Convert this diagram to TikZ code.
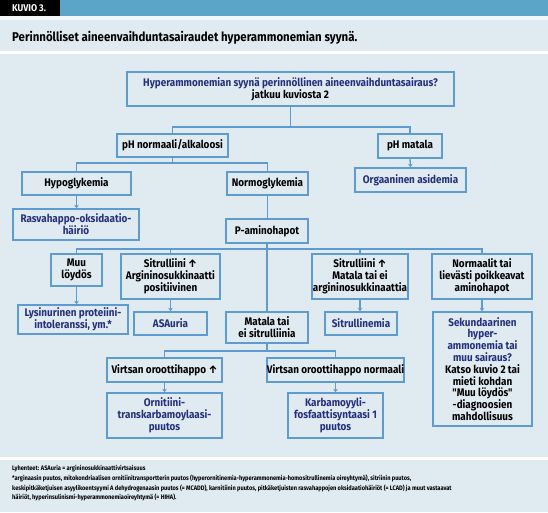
\documentclass[tikz,border=0pt]{standalone}
\usepackage{fontspec}
\setmainfont{Fira Sans}
\newfontfamily\condf[FakeStretch=0.9]{Fira Sans}
\newfontfamily\condg[FakeStretch=0.87]{Fira Sans}
\usetikzlibrary{arrows.meta}
\definecolor{bg}{HTML}{E0EAF1}
\definecolor{bar}{HTML}{5AA5C8}
\definecolor{ln}{HTML}{5E9BD3}
\definecolor{dkb}{HTML}{24307E}
\newcommand\bxfont{\condf\bfseries\fontsize{11}{11.8}\selectfont}
\newcommand\ftfont{\condg\bfseries\fontsize{6.5}{8}\selectfont}
\newcommand\blk[1]{{\color{black}#1}}
\begin{document}
\begin{tikzpicture}[x=1pt,y=-1pt,
  box/.style={draw=ln,line width=1.3pt,fill=bg,inner sep=0pt,align=center,font=\bxfont,text=black},
  res/.style={box,text=dkb},
  conn/.style={draw=ln,line width=1.3pt},
  arr/.style={conn,-{Stealth[length=3.5pt,width=4.5pt]}}]
\useasboundingbox (0,0) rectangle (548,512);
% backgrounds
\fill[bg] (0,0) rectangle (548,512);
\fill[black] (0,0) rectangle (60,16);
\fill[bar] (60,0) rectangle (548,16);
\fill[white!60!bg] (0,16) rectangle (548,19.5);
\fill[white] (0,51) rectangle (548,53.5);
\fill[white] (0,457) rectangle (548,459.5);
\node[anchor=base west,inner sep=0pt,text=white,font=\condf\bfseries\fontsize{9.8}{10}\selectfont] (kuvio) at (12,11.8) {KUVIO 3.};
\node[anchor=base west,inner sep=0pt,font=\condf\bfseries\fontsize{12.7}{14}\selectfont] (title) at (12,41.5) {Perinnölliset aineenvaihduntasairaudet hyperammonemian syynä.};
% boxes
\node[box,minimum width=327pt,minimum height=34pt] (top) at (290.5,89) {{\color{dkb}Hyperammonemian syynä perinnöllinen aineenvaihduntasairaus?}\\jatkuu kuviosta 2};
\node[box,minimum width=111pt,minimum height=23pt] (phn) at (172.5,145.5) {pH normaali/alkaloosi};
\node[box,minimum width=64pt,minimum height=24pt] (phm) at (410,146) {pH matala};
\node[res,minimum width=111pt,minimum height=24pt] (org) at (410.5,180) {Orgaaninen asidemia};
\node[box,minimum width=109pt,minimum height=23pt] (hypo) at (76.5,183.5) {Hypoglykemia};
\node[box,minimum width=81pt,minimum height=23pt] (normo) at (267.5,183.5) {Normoglykemia};
\node[res,minimum width=126pt,minimum height=31pt] (rasva) at (76,224.5) {Rasvahappo-oksidaatio-\\häiriö};
\node[box,minimum width=82pt,minimum height=24pt] (pam) at (267,231) {P-aminohapot};
\node[box,minimum width=51pt,minimum height=32pt] (muu) at (76.5,270) {Muu\\löydös};
\node[box,minimum width=99pt,minimum height=45pt] (sit1) at (170.5,276.5) {Sitrulliini ↑\\Argininosukkinaatti\\positiivinen};
\node[box,minimum width=96pt,minimum height=45pt] (sit2) at (360,276.5) {Sitrulliini ↑\\Matala tai ei\\argininosukkinaattia};
\node[box,minimum width=100pt,minimum height=45pt] (norm) at (482,276.5) {Normaalit tai\\lievästi poikkeavat\\aminohapot};
\node[res,minimum width=110pt,minimum height=29pt] (lys) at (73,319.5) {Lysinurinen proteiini-\\intoleranssi, ym.*};
\node[res,minimum width=73pt,minimum height=23pt] (asa) at (170.5,323.5) {ASAuria};
\node[res,minimum width=72pt,minimum height=23pt] (sitn) at (361,323.5) {Sitrullinemia};
\node[res,minimum width=99pt,minimum height=114pt] (sek) at (482.5,369) {Sekundaarinen\\hyper-\\ammonemia tai\\muu sairaus?\\\blk{Katso kuvio 2 tai}\\\blk{mieti kohdan}\\\blk{"Muu löydös"}\\\blk{-diagnoosien}\\\blk{mahdollisuus}};
\node[box,minimum width=82pt,minimum height=31pt] (mat) at (267,327.5) {Matala tai\\ei sitrulliinia};
\node[box,minimum width=115pt,minimum height=24pt] (vo1) at (164.5,370) {Virtsan oroottihappo ↑};
\node[box,minimum width=135pt,minimum height=24pt] (vo2) at (335.5,370) {Virtsan oroottihappo normaali};
\node[res,minimum width=115pt,minimum height=45pt] (orn) at (164.5,415.5) {Ornitiini-\\transkarbamoylaasi-\\puutos};
\node[res,minimum width=95pt,minimum height=45pt] (karb) at (335.5,415.5) {Karbamoyyli-\\fosfaattisyntaasi 1\\puutos};
% connectors
\coordinate (j1) at (290.5,127);
\draw[conn] (top.south) -- (j1);
\draw[conn] (phn.north) |- (j1) -| (phm.north);
\draw[arr] (phm.south) -- (org.north);
\coordinate (j2) at (172.5,163);
\draw[conn] (phn.south) -- (j2);
\draw[conn] (hypo.north) |- (j2) -| (normo.north);
\draw[arr] (hypo.south) -- (hypo.south |- rasva.north);
\draw[conn] (normo.south) -- (normo.south |- pam.north);
\coordinate (j3) at (267,249);
\draw[conn] (pam.south) -- (mat.north);
\draw[conn] (muu.north) |- (j3) -| (norm.north);
\draw[conn] (sit1.north) -- (sit1.north |- j3);
\draw[conn] (sit2.north) -- (sit2.north |- j3);
\draw[arr] (muu.south) -- (muu.south |- lys.north);
\draw[arr] (sit1.south) -- (sit1.south |- asa.north);
\draw[arr] (sit2.south) -- (sit2.south |- sitn.north);
\draw[arr] (norm.south) -- (norm.south |- sek.north);
\coordinate (j4) at (267,351);
\draw[conn] (mat.south) -- (j4);
\draw[conn] (vo1.north) |- (j4) -| (vo2.north);
\draw[arr] (vo1.south) -- (orn.north);
\draw[arr] (vo2.south) -- (karb.north);
% footer
\node[anchor=base west,inner sep=0pt,font=\ftfont] (f1) at (12,470.5) {Lyhenteet: ASAuria = argininosukkinaattivirtsaisuus};
\node[anchor=base west,inner sep=0pt,font=\ftfont] (f2) at (12,480.5) {*arginaasin puutos, mitokondriaalisen ornitiinitransportterin puutos (hyperornitinemia-hyperammonemia-homositrullinemia oireyhtymä), sitriinin puutos,};
\node[anchor=base west,inner sep=0pt,font=\ftfont] (f3) at (12,490) {keskipitkäketjuisen asyylikoentsyymi A dehydrogenaasin puutos (= MCADD), karnitiinin puutos, pitkäketjuisten rasvahappojen oksidaatiohäiriöt (= LCAD) ja muut vastaavat};
\node[anchor=base west,inner sep=0pt,font=\ftfont] (f4) at (12,499.5) {häiriöt, hyperinsulinismi-hyperammonemiaoireyhtymä (= HIHA).};
\end{tikzpicture}
\end{document}
